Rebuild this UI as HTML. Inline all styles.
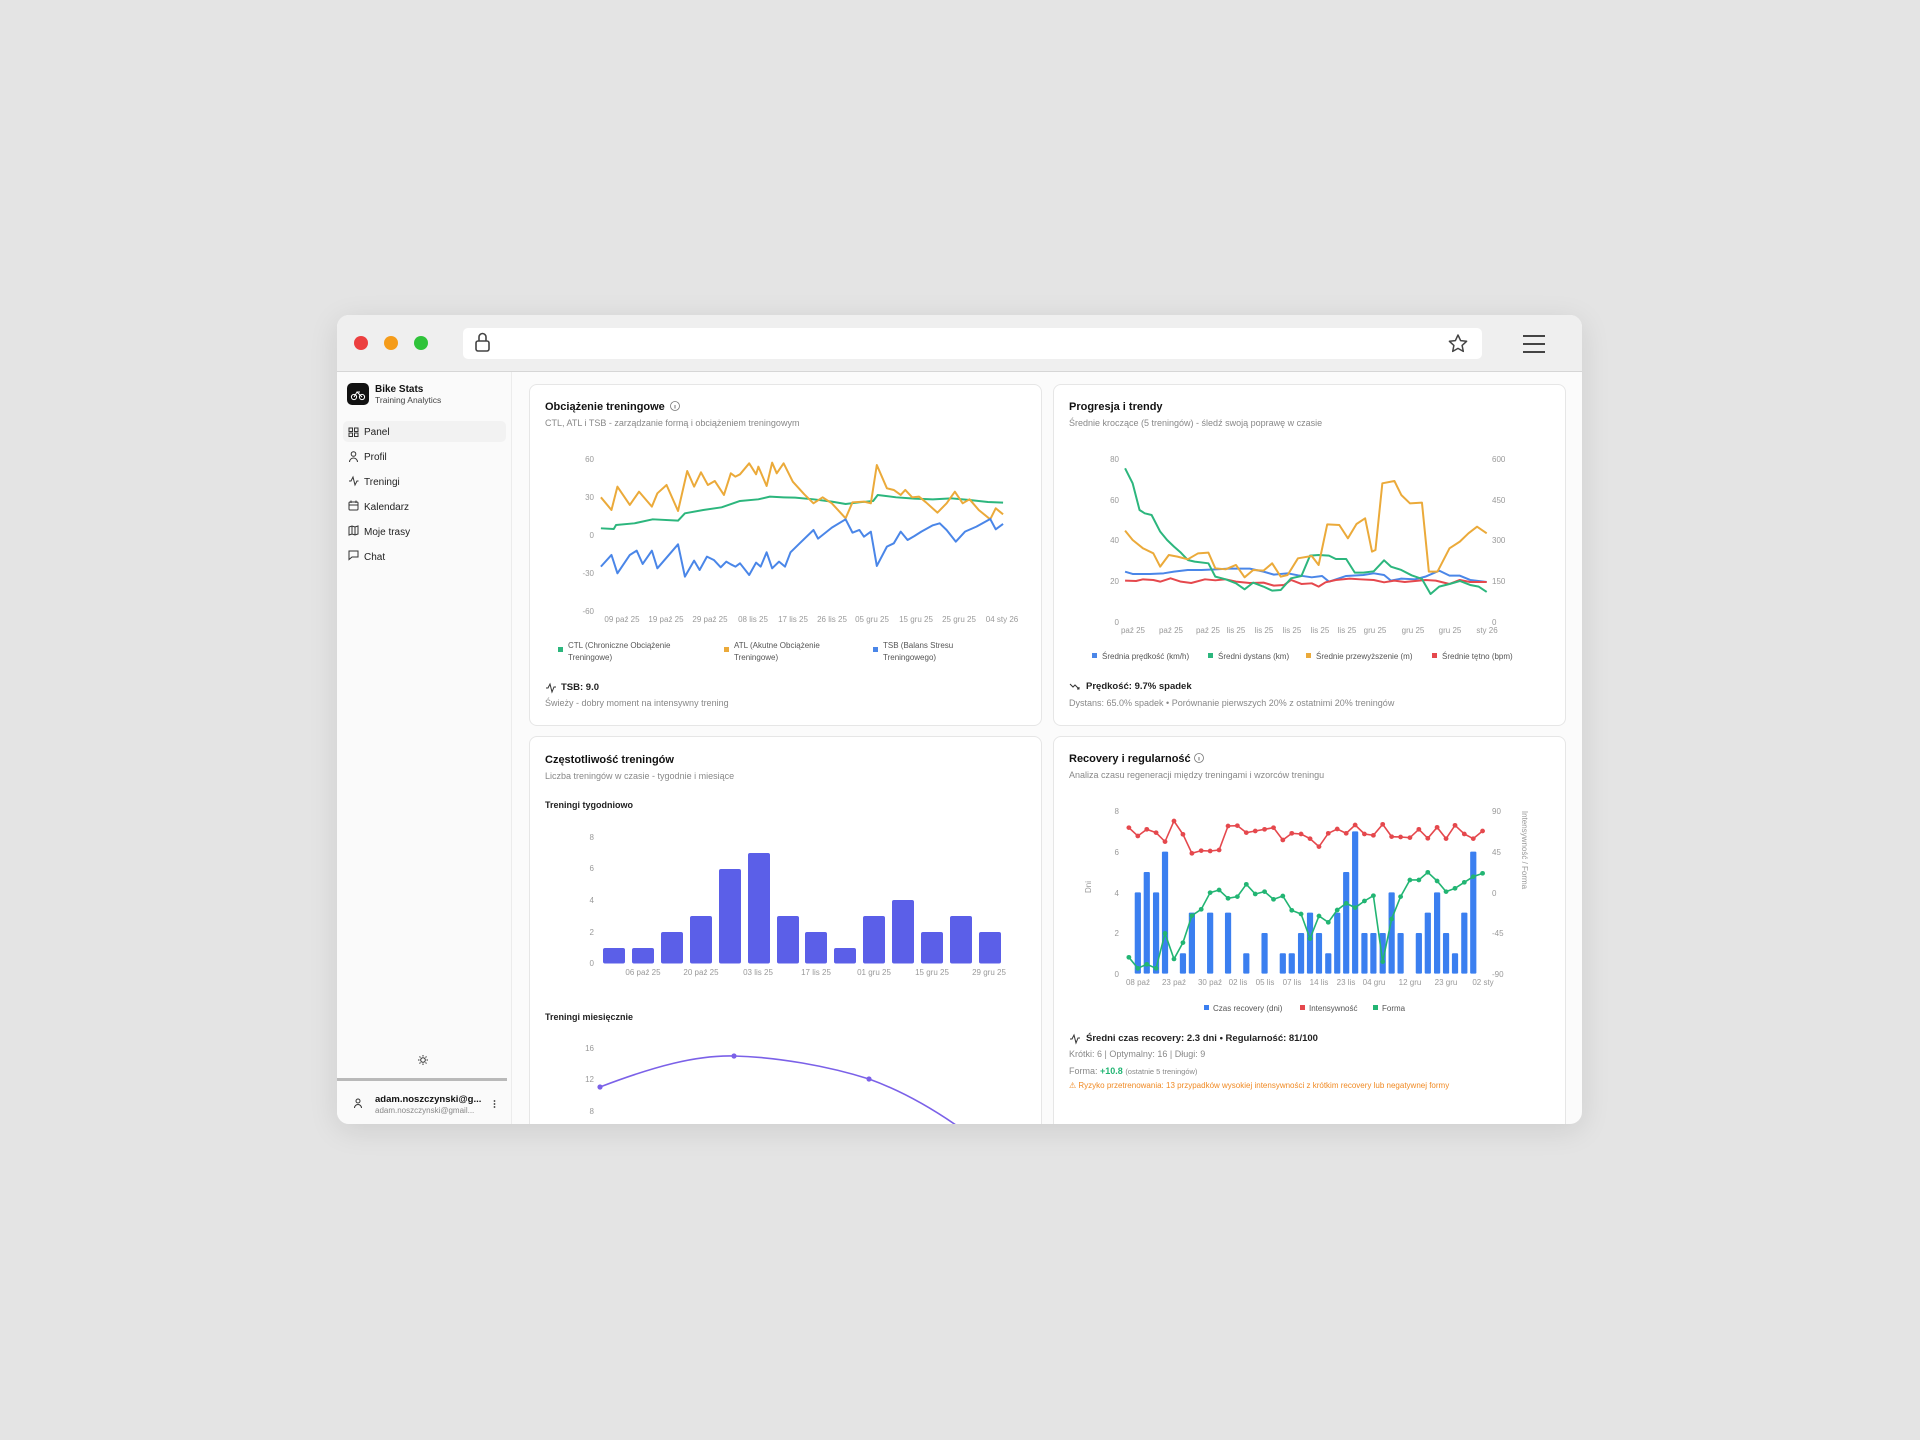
<!DOCTYPE html>
<html><head><meta charset="utf-8"><style>
html,body{margin:0;padding:0;width:1920px;height:1440px;background:#e4e4e4;overflow:hidden;font-family:"Liberation Sans","DejaVu Sans",sans-serif}
.abs{position:absolute}
#win{left:337px;top:315px;width:1245px;height:809px;border-radius:12px;overflow:hidden;background:#fbfbfb;box-shadow:0 6px 30px rgba(0,0,0,.10)}
#bar{left:0;top:0;width:1245px;height:56px;background:#efefef;border-bottom:1px solid #d6d6d6}
#url{left:126px;top:13px;width:1019px;height:31px;background:#fff;border-radius:5px}
#side{left:0;top:57px;width:174px;height:752px;background:#fafafa;border-right:1px solid #ececec}
.card{background:#fff;border:1px solid #e6e6e6;border-radius:8px}
</style></head><body>
<div id="win" class="abs">
 <div id="bar" class="abs"><div id="url" class="abs"></div></div>
 <div id="side" class="abs"></div>
 <div class="abs" style="left:6px;top:106px;width:163px;height:21px;background:#f2f2f2;border-radius:5px"></div>
 <div class="abs" style="left:0;top:763px;width:170px;height:3px;background:#b9b9b9"></div>
 <div class="abs card" style="left:192px;top:69px;width:511px;height:340px"></div>
 <div class="abs card" style="left:716px;top:69px;width:511px;height:340px"></div>
 <div class="abs card" style="left:192px;top:421px;width:511px;height:420px"></div>
 <div class="abs card" style="left:716px;top:421px;width:511px;height:420px"></div>
</div>
<svg class="abs" style="left:0;top:0" width="1920" height="1440" viewBox="0 0 1920 1440" font-family="Liberation Sans, DejaVu Sans, sans-serif">
<defs><clipPath id="wc"><rect x="337" y="315" width="1245" height="809" rx="12"/></clipPath></defs>
<!-- traffic lights -->
<circle cx="361" cy="343" r="7" fill="#ec3f3f"/><circle cx="391" cy="343" r="7" fill="#f59c1a"/><circle cx="421" cy="343" r="7" fill="#2fc33a"/>
<!-- lock -->
<rect x="476" y="341" width="13" height="10" rx="2" fill="none" stroke="#444" stroke-width="1.6"/><path d="M479 341v-4a3.5 3.5 0 0 1 7 0v4" fill="none" stroke="#444" stroke-width="1.6"/>
<!-- star -->
<path d="M1458 335l2.6 5.6 6 .7-4.5 4.1 1.2 6-5.3-3-5.3 3 1.2-6-4.5-4.1 6-.7z" fill="none" stroke="#444" stroke-width="1.5" stroke-linejoin="round"/>
<path d="M1523 336h22M1523 344h22M1523 352h22" stroke="#444" stroke-width="2"/>
<!-- sidebar -->
<rect x="347" y="383" width="22" height="22" rx="5" fill="#111"/>
<circle cx="354" cy="397" r="2.6" fill="none" stroke="#fff" stroke-width="1"/><circle cx="362" cy="397" r="2.6" fill="none" stroke="#fff" stroke-width="1"/><path d="M354 397l3-5 5 5M357 392h3" fill="none" stroke="#fff" stroke-width="1"/>
<text x="375" y="392" font-size="10" font-weight="bold" fill="#111">Bike Stats</text>
<text x="375" y="403" font-size="8.5" fill="#444">Training Analytics</text>
<g font-size="10" fill="#222">
<text x="364" y="435">Panel</text><text x="364" y="460">Profil</text><text x="364" y="485">Treningi</text><text x="364" y="510">Kalendarz</text><text x="364" y="535">Moje trasy</text><text x="364" y="560">Chat</text></g>
<g fill="none" stroke="#333" stroke-width="1">
<rect x="349" y="428" width="3.5" height="3.5"/><rect x="354.5" y="428" width="3.5" height="3.5"/><rect x="349" y="433" width="3.5" height="3.5"/><rect x="354.5" y="433" width="3.5" height="3.5"/>
<circle cx="353.5" cy="454" r="2.3"/><path d="M349.5 462a4 4 0 0 1 8 0"/>
<path d="M349 481h2l2-4 2 8 2-4h1.5"/>
<rect x="349" y="502" width="9" height="8" rx="1"/><path d="M349 505h9M351 500.5v2.5M356 500.5v2.5"/>
<path d="M349 527l3-1 3 1 3-1v8l-3 1-3-1-3 1z M352 526v8 M355 527v8"/>
<path d="M349 551h9v6h-6l-3 2.5z"/></g>
<circle cx="423" cy="1060" r="2.3" fill="none" stroke="#333" stroke-width="1"/><path d="M423 1055v1.5M423 1063.5v1.5M418 1060h1.5M426.5 1060h1.5M419.5 1056.5l1 1M425.5 1062.5l1 1M419.5 1063.5l1-1M425.5 1057.5l1-1" stroke="#333" stroke-width="1"/>
<circle cx="358" cy="1101" r="2" fill="none" stroke="#333" stroke-width="1"/><path d="M354.5 1108a3.5 3.5 0 0 1 7 0" fill="none" stroke="#333" stroke-width="1"/>
<text x="375" y="1102" font-size="9.5" fill="#111" font-weight="bold">adam.noszczynski@g...</text>
<text x="375" y="1113" font-size="8" fill="#888">adam.noszczynski@gmail...</text>
<circle cx="494.5" cy="1101" r=".9" fill="#333"/><circle cx="494.5" cy="1104" r=".9" fill="#333"/><circle cx="494.5" cy="1107" r=".9" fill="#333"/>

<!-- CARD 1 -->
<text x="545" y="410" font-size="11" font-weight="bold" fill="#111">Obciążenie treningowe</text>
<circle cx="675" cy="406" r="4.5" fill="none" stroke="#777" stroke-width=".8"/><path d="M675 405v3.5" stroke="#777"/>
<text x="545" y="426" font-size="9" fill="#888">CTL, ATL i TSB - zarządzanie formą i obciążeniem treningowym</text>
<g font-size="8" fill="#999" text-anchor="end"><text x="594" y="462">60</text><text x="594" y="500">30</text><text x="594" y="538">0</text><text x="594" y="576">-30</text><text x="594" y="614">-60</text></g>
<g font-size="8" fill="#999" text-anchor="middle"><text x="622" y="622">09 paź 25</text><text x="666" y="622">19 paź 25</text><text x="710" y="622">29 paź 25</text><text x="753" y="622">08 lis 25</text><text x="793" y="622">17 lis 25</text><text x="832" y="622">26 lis 25</text><text x="872" y="622">05 gru 25</text><text x="916" y="622">15 gru 25</text><text x="959" y="622">25 gru 25</text><text x="1002" y="622">04 sty 26</text></g>
<g transform="translate(336,310) scale(0.4591,0.3333)" fill="none" stroke-width="2" stroke-linejoin="round">
<polyline vector-effect="non-scaling-stroke" stroke="#2cb67d" points="577,655 605,657 610,645 650,640 690,628 745,632 760,610 800,600 840,592 880,573 920,568 945,560 975,562 1000,563 1040,568 1080,575 1110,582 1140,577 1170,573 1180,555 1220,562 1260,566 1300,568 1340,565 1380,570 1420,576 1453,578"/>
<polyline vector-effect="non-scaling-stroke" stroke="#ebaa3a" points="577,562 600,600 613,530 640,585 660,545 688,590 700,550 720,525 745,603 765,483 780,530 795,487 810,525 825,513 845,555 860,490 870,500 880,493 900,460 915,493 920,470 938,528 950,458 960,490 975,460 995,515 1020,553 1040,580 1060,562 1080,580 1110,625 1125,577 1150,575 1165,580 1178,465 1200,535 1215,540 1230,555 1240,540 1255,562 1270,560 1285,577 1310,608 1330,580 1348,545 1365,580 1380,568 1400,600 1425,628 1437,595 1453,613"/>
<polyline vector-effect="non-scaling-stroke" stroke="#4a86e8" points="577,770 600,735 613,790 640,735 655,722 668,762 688,722 700,775 745,703 760,800 780,752 792,780 808,740 823,750 838,772 850,755 860,763 870,770 880,760 900,795 915,758 925,770 938,727 950,775 965,755 978,770 990,727 1010,700 1040,660 1050,686 1080,653 1110,628 1125,668 1140,660 1150,680 1165,665 1178,768 1200,710 1215,700 1230,665 1245,690 1260,678 1275,665 1300,646 1315,640 1330,660 1350,695 1370,665 1395,650 1425,627 1437,658 1453,642"/>
</g>
<rect x="558" y="647" width="5" height="5" fill="#2cb67d"/><rect x="724" y="647" width="5" height="5" fill="#ebaa3a"/><rect x="873" y="647" width="5" height="5" fill="#4a86e8"/>
<g font-size="8" fill="#555"><text x="568" y="648">CTL (Chroniczne Obciążenie</text><text x="568" y="660">Treningowe)</text><text x="734" y="648">ATL (Akutne Obciążenie</text><text x="734" y="660">Treningowe)</text><text x="883" y="648">TSB (Balans Stresu</text><text x="883" y="660">Treningowego)</text></g>
<path d="M546 688h2l2-4 2 8 2-5h2" fill="none" stroke="#333" stroke-width="1"/>
<text x="561" y="690" font-size="9.5" font-weight="bold" fill="#222">TSB: 9.0</text>
<text x="545" y="706" font-size="9" fill="#888">Świeży - dobry moment na intensywny trening</text>

<!-- CARD 2 -->
<text x="1069" y="410" font-size="11" font-weight="bold" fill="#111">Progresja i trendy</text>
<text x="1069" y="426" font-size="9" fill="#888">Średnie kroczące (5 treningów) - śledź swoją poprawę w czasie</text>
<g font-size="8" fill="#999" text-anchor="end"><text x="1119" y="462">80</text><text x="1119" y="503">60</text><text x="1119" y="543">40</text><text x="1119" y="584">20</text><text x="1119" y="625">0</text></g>
<g font-size="8" fill="#999"><text x="1492" y="462">600</text><text x="1492" y="503">450</text><text x="1492" y="543">300</text><text x="1492" y="584">150</text><text x="1492" y="625">0</text></g>
<g font-size="8" fill="#999" text-anchor="middle"><text x="1133" y="633">paź 25</text><text x="1171" y="633">paź 25</text><text x="1208" y="633">paź 25</text><text x="1236" y="633">lis 25</text><text x="1264" y="633">lis 25</text><text x="1292" y="633">lis 25</text><text x="1320" y="633">lis 25</text><text x="1347" y="633">lis 25</text><text x="1375" y="633">gru 25</text><text x="1413" y="633">gru 25</text><text x="1450" y="633">gru 25</text><text x="1487" y="633">sty 26</text></g>
<g transform="translate(1050,380) scale(0.3444,0.3333)" fill="none" stroke-width="2" stroke-linejoin="round">
<polyline vector-effect="non-scaling-stroke" stroke="#4a86e8" points="218,575 240,582 290,582 330,580 360,575 400,570 440,570 480,568 520,566 580,566 620,575 650,584 690,580 720,586 760,592 790,588 810,605 860,588 910,585 940,580 970,585 990,602 1020,596 1060,598 1090,590 1130,572 1160,587 1190,587 1220,600 1268,606"/>
<polyline vector-effect="non-scaling-stroke" stroke="#e5484d" points="218,602 250,603 270,598 300,600 320,605 350,595 380,605 410,609 450,598 480,601 510,598 540,605 580,609 620,608 650,617 680,615 700,600 730,612 760,610 780,620 800,607 830,600 870,596 900,598 940,600 970,607 1000,602 1030,606 1060,603 1090,600 1120,602 1160,612 1190,600 1220,606 1268,606"/>
<polyline vector-effect="non-scaling-stroke" stroke="#2cb67d" points="218,265 240,310 260,390 275,400 295,405 320,455 340,480 360,500 380,518 400,540 420,545 460,550 480,590 510,598 540,610 565,628 590,608 620,620 645,632 670,630 700,595 730,588 755,527 780,525 810,527 830,537 860,537 885,578 910,578 940,574 970,541 990,560 1020,570 1050,586 1080,597 1105,642 1130,620 1160,612 1190,603 1220,615 1245,620 1268,636"/>
<polyline vector-effect="non-scaling-stroke" stroke="#ebaa3a" points="218,452 240,480 270,505 300,520 320,560 345,525 370,530 400,538 430,520 460,518 480,565 510,568 540,555 565,592 590,570 620,572 645,550 670,590 690,585 720,535 760,528 780,555 805,433 840,435 865,475 890,432 915,415 935,515 945,510 965,310 1000,303 1020,345 1045,370 1080,368 1100,575 1125,575 1160,505 1190,485 1215,460 1240,440 1268,460"/>
</g>
<g font-size="8" fill="#555"><rect x="1092" y="653" width="5" height="5" fill="#4a86e8"/><text x="1102" y="659">Średnia prędkość (km/h)</text>
<rect x="1208" y="653" width="5" height="5" fill="#2cb67d"/><text x="1218" y="659">Średni dystans (km)</text>
<rect x="1306" y="653" width="5" height="5" fill="#ebaa3a"/><text x="1316" y="659">Średnie przewyższenie (m)</text>
<rect x="1432" y="653" width="5" height="5" fill="#e5484d"/><text x="1442" y="659">Średnie tętno (bpm)</text></g>
<path d="M1070 684l3 3 2-2 4 4M1077 689h2v-2" fill="none" stroke="#333" stroke-width="1"/>
<text x="1086" y="689" font-size="9.5" font-weight="bold" fill="#222">Prędkość: 9.7% spadek</text>
<text x="1069" y="706" font-size="9" fill="#888">Dystans: 65.0% spadek • Porównanie pierwszych 20% z ostatnimi 20% treningów</text>

<!-- CARD 3 freq -->
<g clip-path="url(#wc)">
<text x="545" y="763" font-size="11" font-weight="bold" fill="#111">Częstotliwość treningów</text>
<text x="545" y="779" font-size="9" fill="#888">Liczba treningów w czasie - tygodnie i miesiące</text>
<text x="545" y="808" font-size="9" font-weight="bold" fill="#222">Treningi tygodniowo</text>
<g font-size="8" fill="#999" text-anchor="end"><text x="594" y="840">8</text><text x="594" y="871">6</text><text x="594" y="903">4</text><text x="594" y="935">2</text><text x="594" y="966">0</text></g>
<g font-size="8" fill="#999" text-anchor="middle"><text x="643" y="975">06 paź 25</text><text x="701" y="975">20 paź 25</text><text x="758" y="975">03 lis 25</text><text x="816" y="975">17 lis 25</text><text x="874" y="975">01 gru 25</text><text x="932" y="975">15 gru 25</text><text x="989" y="975">29 gru 25</text></g>
<g fill="#5b5fe8">
<rect x="603" y="948" width="22" height="15.5" rx="2"/><rect x="632" y="948" width="22" height="15.5" rx="2"/><rect x="661" y="932" width="22" height="31.5" rx="2"/><rect x="690" y="916" width="22" height="47.5" rx="2"/><rect x="719" y="869" width="22" height="94.5" rx="2"/><rect x="748" y="853" width="22" height="110.5" rx="2"/><rect x="777" y="916" width="22" height="47.5" rx="2"/><rect x="805" y="932" width="22" height="31.5" rx="2"/><rect x="834" y="948" width="22" height="15.5" rx="2"/><rect x="863" y="916" width="22" height="47.5" rx="2"/><rect x="892" y="900" width="22" height="63.5" rx="2"/><rect x="921" y="932" width="22" height="31.5" rx="2"/><rect x="950" y="916" width="22" height="47.5" rx="2"/><rect x="979" y="932" width="22" height="31.5" rx="2"/></g>
<text x="545" y="1020" font-size="9" font-weight="bold" fill="#222">Treningi miesięcznie</text>
<g font-size="8" fill="#999" text-anchor="end"><text x="594" y="1051">16</text><text x="594" y="1082">12</text><text x="594" y="1114">8</text></g>
<path d="M600 1087 C 655 1066 697 1055 734 1056 C 777 1057 828 1066 869 1079 C 905 1092 935 1110 963 1130" fill="none" stroke="#7b61e8" stroke-width="1.6"/>
<circle cx="600" cy="1087" r="2.6" fill="#7b61e8"/><circle cx="734" cy="1056" r="2.6" fill="#7b61e8"/><circle cx="869" cy="1079" r="2.6" fill="#7b61e8"/>

<!-- CARD 4 recovery -->
<text x="1069" y="762" font-size="11" font-weight="bold" fill="#111">Recovery i regularność</text>
<circle cx="1199" cy="758" r="4.5" fill="none" stroke="#777" stroke-width=".8"/><path d="M1199 757v3.5" stroke="#777"/>
<text x="1069" y="778" font-size="9" fill="#888">Analiza czasu regeneracji między treningami i wzorców treningu</text>
<g font-size="8" fill="#999" text-anchor="end"><text x="1119" y="814">8</text><text x="1119" y="855">6</text><text x="1119" y="896">4</text><text x="1119" y="936">2</text><text x="1119" y="977">0</text></g>
<g font-size="8" fill="#999"><text x="1492" y="814">90</text><text x="1492" y="855">45</text><text x="1492" y="896">0</text><text x="1492" y="936">-45</text><text x="1492" y="977">-90</text></g>
<text transform="translate(1091,887) rotate(-90)" font-size="8" fill="#999" text-anchor="middle">Dni</text>
<text transform="translate(1522,850) rotate(90)" font-size="8" fill="#999" text-anchor="middle">Intensywność / Forma</text>
<g font-size="8" fill="#999" text-anchor="middle"><text x="1138" y="985">08 paź</text><text x="1174" y="985">23 paź</text><text x="1210" y="985">30 paź</text><text x="1238" y="985">02 lis</text><text x="1265" y="985">05 lis</text><text x="1292" y="985">07 lis</text><text x="1319" y="985">14 lis</text><text x="1346" y="985">23 lis</text><text x="1374" y="985">04 gru</text><text x="1410" y="985">12 gru</text><text x="1446" y="985">23 gru</text><text x="1483" y="985">02 sty</text></g>
<g transform="translate(1050,740) scale(0.3444,0.3333)">
<g fill="#3b7ff0">
<rect x="246" y="457" width="18" height="244" rx="3"/><rect x="272" y="396" width="18" height="305" rx="3"/><rect x="299" y="457" width="18" height="244" rx="3"/><rect x="325" y="335" width="18" height="366" rx="3"/><rect x="377" y="640" width="18" height="61" rx="3"/><rect x="403" y="518" width="18" height="183" rx="3"/><rect x="456" y="518" width="18" height="183" rx="3"/><rect x="508" y="518" width="18" height="183" rx="3"/><rect x="561" y="640" width="18" height="61" rx="3"/><rect x="614" y="579" width="18" height="122" rx="3"/><rect x="667" y="640" width="18" height="61" rx="3"/><rect x="693" y="640" width="18" height="61" rx="3"/><rect x="720" y="579" width="18" height="122" rx="3"/><rect x="746" y="518" width="18" height="183" rx="3"/><rect x="772" y="579" width="18" height="122" rx="3"/><rect x="799" y="640" width="18" height="61" rx="3"/><rect x="825" y="518" width="18" height="183" rx="3"/><rect x="851" y="396" width="18" height="305" rx="3"/><rect x="877" y="274" width="18" height="427" rx="3"/><rect x="904" y="579" width="18" height="122" rx="3"/><rect x="930" y="579" width="18" height="122" rx="3"/><rect x="957" y="579" width="18" height="122" rx="3"/><rect x="983" y="457" width="18" height="244" rx="3"/><rect x="1009" y="579" width="18" height="122" rx="3"/><rect x="1062" y="579" width="18" height="122" rx="3"/><rect x="1088" y="518" width="18" height="183" rx="3"/><rect x="1115" y="457" width="18" height="244" rx="3"/><rect x="1141" y="579" width="18" height="122" rx="3"/><rect x="1167" y="640" width="18" height="61" rx="3"/><rect x="1194" y="518" width="18" height="183" rx="3"/><rect x="1220" y="335" width="18" height="366" rx="3"/></g>
<polyline vector-effect="non-scaling-stroke" fill="none" stroke="#e5484d" stroke-width="1.6" points="229,263 255,288 281,268 308,278 334,305 360,243 386,283 412,340 439,332 465,333 491,330 517,258 544,257 570,278 596,273 623,268 649,263 676,300 702,280 729,282 755,296 781,320 808,280 834,267 860,280 886,255 913,282 939,286 966,253 992,290 1018,291 1045,293 1071,268 1097,295 1124,262 1150,296 1176,256 1203,282 1229,296 1256,273"/>
<polyline vector-effect="non-scaling-stroke" fill="none" stroke="#22b573" stroke-width="1.6" points="229,652 255,685 281,673 308,685 334,580 360,657 386,608 412,527 439,508 465,458 491,450 517,475 544,470 570,433 596,462 623,455 649,478 676,468 702,511 729,522 755,596 781,528 808,547 834,510 860,490 886,503 913,483 939,467 966,665 992,537 1018,470 1045,420 1071,420 1097,397 1124,423 1150,455 1176,445 1203,427 1229,410 1256,400"/>
<g fill="#e5484d"><circle cx="229" cy="263" r="7"/><circle cx="255" cy="288" r="7"/><circle cx="281" cy="268" r="7"/><circle cx="308" cy="278" r="7"/><circle cx="334" cy="305" r="7"/><circle cx="360" cy="243" r="7"/><circle cx="386" cy="283" r="7"/><circle cx="412" cy="340" r="7"/><circle cx="439" cy="332" r="7"/><circle cx="465" cy="333" r="7"/><circle cx="491" cy="330" r="7"/><circle cx="517" cy="258" r="7"/><circle cx="544" cy="257" r="7"/><circle cx="570" cy="278" r="7"/><circle cx="596" cy="273" r="7"/><circle cx="623" cy="268" r="7"/><circle cx="649" cy="263" r="7"/><circle cx="676" cy="300" r="7"/><circle cx="702" cy="280" r="7"/><circle cx="729" cy="282" r="7"/><circle cx="755" cy="296" r="7"/><circle cx="781" cy="320" r="7"/><circle cx="808" cy="280" r="7"/><circle cx="834" cy="267" r="7"/><circle cx="860" cy="280" r="7"/><circle cx="886" cy="255" r="7"/><circle cx="913" cy="282" r="7"/><circle cx="939" cy="286" r="7"/><circle cx="966" cy="253" r="7"/><circle cx="992" cy="290" r="7"/><circle cx="1018" cy="291" r="7"/><circle cx="1045" cy="293" r="7"/><circle cx="1071" cy="268" r="7"/><circle cx="1097" cy="295" r="7"/><circle cx="1124" cy="262" r="7"/><circle cx="1150" cy="296" r="7"/><circle cx="1176" cy="256" r="7"/><circle cx="1203" cy="282" r="7"/><circle cx="1229" cy="296" r="7"/><circle cx="1256" cy="273" r="7"/></g>
<g fill="#22b573"><circle cx="229" cy="652" r="7"/><circle cx="255" cy="685" r="7"/><circle cx="281" cy="673" r="7"/><circle cx="308" cy="685" r="7"/><circle cx="334" cy="580" r="7"/><circle cx="360" cy="657" r="7"/><circle cx="386" cy="608" r="7"/><circle cx="412" cy="527" r="7"/><circle cx="439" cy="508" r="7"/><circle cx="465" cy="458" r="7"/><circle cx="491" cy="450" r="7"/><circle cx="517" cy="475" r="7"/><circle cx="544" cy="470" r="7"/><circle cx="570" cy="433" r="7"/><circle cx="596" cy="462" r="7"/><circle cx="623" cy="455" r="7"/><circle cx="649" cy="478" r="7"/><circle cx="676" cy="468" r="7"/><circle cx="702" cy="511" r="7"/><circle cx="729" cy="522" r="7"/><circle cx="755" cy="596" r="7"/><circle cx="781" cy="528" r="7"/><circle cx="808" cy="547" r="7"/><circle cx="834" cy="510" r="7"/><circle cx="860" cy="490" r="7"/><circle cx="886" cy="503" r="7"/><circle cx="913" cy="483" r="7"/><circle cx="939" cy="467" r="7"/><circle cx="966" cy="665" r="7"/><circle cx="992" cy="537" r="7"/><circle cx="1018" cy="470" r="7"/><circle cx="1045" cy="420" r="7"/><circle cx="1071" cy="420" r="7"/><circle cx="1097" cy="397" r="7"/><circle cx="1124" cy="423" r="7"/><circle cx="1150" cy="455" r="7"/><circle cx="1176" cy="445" r="7"/><circle cx="1203" cy="427" r="7"/><circle cx="1229" cy="410" r="7"/><circle cx="1256" cy="400" r="7"/></g>
</g>
<g font-size="8" fill="#555"><rect x="1204" y="1005" width="5" height="5" fill="#3b7ff0"/><text x="1213" y="1011">Czas recovery (dni)</text>
<rect x="1300" y="1005" width="5" height="5" fill="#e5484d"/><text x="1309" y="1011">Intensywność</text>
<rect x="1373" y="1005" width="5" height="5" fill="#22b573"/><text x="1382" y="1011">Forma</text></g>
<path d="M1070 1039h2l2-4 2 8 2-5h2" fill="none" stroke="#333" stroke-width="1"/>
<text x="1086" y="1041" font-size="9.5" font-weight="bold" fill="#222">Średni czas recovery: 2.3 dni • Regularność: 81/100</text>
<text x="1069" y="1057" font-size="9" fill="#888">Krótki: 6 | Optymalny: 16 | Długi: 9</text>
<text x="1069" y="1074" font-size="9" fill="#888">Forma: <tspan fill="#22b573" font-weight="bold">+10.8</tspan> <tspan font-size="7.5">(ostatnie 5 treningów)</tspan></text>
<text x="1069" y="1088" font-size="8" fill="#f08a24">⚠ Ryzyko przetrenowania: 13 przypadków wysokiej intensywności z krótkim recovery lub negatywnej formy</text>
</g>
</svg>
</body></html>
